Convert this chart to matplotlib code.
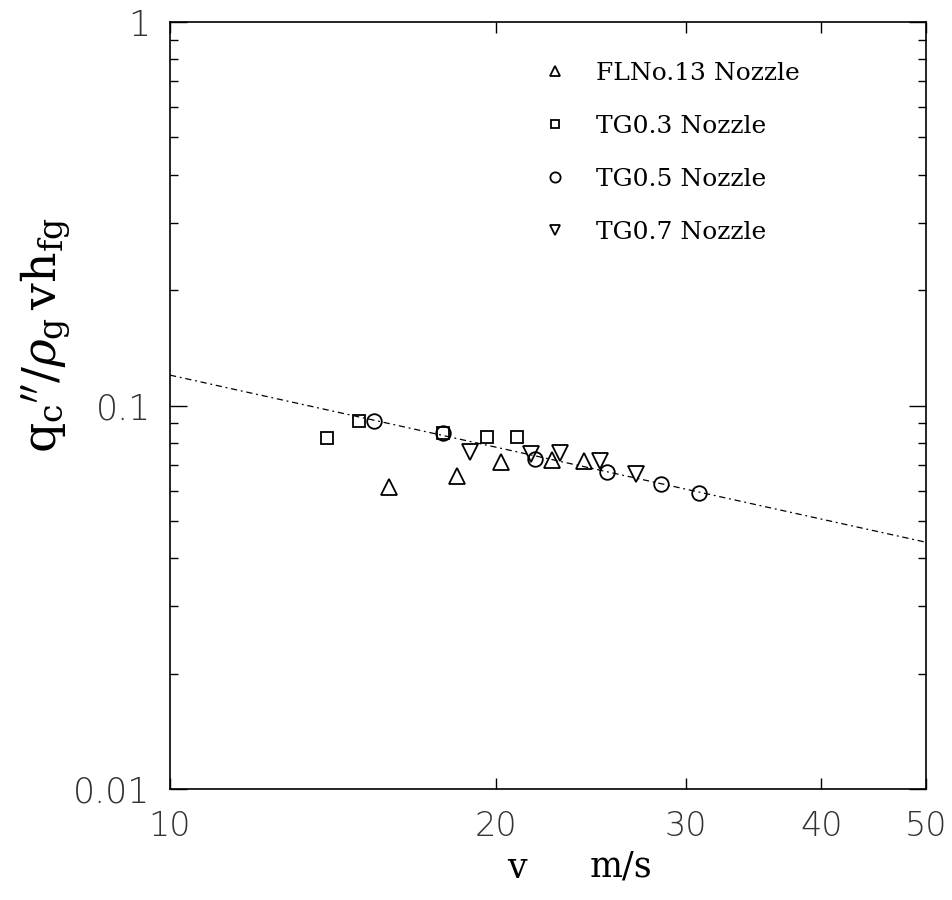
import matplotlib
matplotlib.use("Agg")
import matplotlib.pyplot as plt
from matplotlib.ticker import FixedLocator, NullLocator, LogLocator, NullFormatter, FixedFormatter

# ---- data ----
fl13_v = [15.95, 18.43, 20.23, 22.53, 24.15]
fl13_q = [0.0614, 0.0655, 0.0714, 0.0723, 0.0718]

tg03_v = [13.96, 14.95, 17.89, 19.64, 20.92]
tg03_q = [0.0821, 0.0911, 0.0846, 0.0829, 0.0829]

tg05_v = [15.44, 17.87, 21.73, 25.33, 28.47, 30.84]
tg05_q = [0.0911, 0.0846, 0.0725, 0.0669, 0.0625, 0.0593]

tg07_v = [18.94, 21.58, 22.92, 24.98, 26.94]
tg07_q = [0.0755, 0.0747, 0.0750, 0.0718, 0.0664]

fit_v = [10, 50]
fit_q = [0.12, 0.044]

x_ticks = [10, 20, 30, 40, 50]
x_ticklabels = ["10", "20", "30", "40", "50"]
y_ticks = [0.01, 0.1, 1]
y_ticklabels = ["0.01", "0.1", "1"]

labels = ["FLNo.13 Nozzle", "TG0.3 Nozzle", "TG0.5 Nozzle", "TG0.7 Nozzle"]

# ---- figure ----
plt.rcParams['mathtext.fontset'] = 'dejavuserif'
fig = plt.figure(figsize=(9.53, 9.0), dpi=100)
ax = fig.add_axes([170/953, 1-789/900, 756/953, 767/900])

ax.set_xscale('log')
ax.set_yscale('log')
ax.set_xlim(10, 50)
ax.set_ylim(0.01, 1)

ax.plot(fit_v, fit_q, color='black', lw=0.9, dashes=(5, 3, 1.5, 3))

mk = dict(linestyle='none', markerfacecolor='none', markeredgecolor='black', markeredgewidth=1.3)
ax.plot(fl13_v, fl13_q, marker='^', markersize=11, label=labels[0], **mk)
ax.plot(tg03_v, tg03_q, marker='s', markersize=9, label=labels[1], **mk)
ax.plot(tg05_v, tg05_q, marker='o', markersize=10.5, label=labels[2], **mk)
ax.plot(tg07_v, tg07_q, marker='v', markersize=11, label=labels[3], **mk)

# ticks
ax.xaxis.set_major_locator(FixedLocator(x_ticks))
ax.xaxis.set_major_formatter(FixedFormatter(x_ticklabels))
ax.xaxis.set_minor_locator(NullLocator())
ax.yaxis.set_major_locator(FixedLocator(y_ticks))
ax.yaxis.set_major_formatter(FixedFormatter(y_ticklabels))
ax.yaxis.set_minor_locator(LogLocator(base=10, subs=range(2, 10)))
ax.yaxis.set_minor_formatter(NullFormatter())

ax.tick_params(axis='both', which='both', direction='in', top=True, right=True, width=1.0, color='black')
ax.tick_params(axis='y', which='major', length=12, pad=14)
ax.tick_params(axis='y', which='minor', length=6)
ax.tick_params(axis='x', which='major', length=8, pad=15)
for lab in ax.get_yticklabels():
    lab.set_fontfamily('DejaVu Sans')
    lab.set_fontsize(25)
    lab.set_fontweight('light')
    lab.set_color('#333333')
for lab in ax.get_xticklabels():
    lab.set_fontfamily('DejaVu Sans')
    lab.set_fontsize(24)
    lab.set_fontweight('light')
    lab.set_color('#333333')

for s in ax.spines.values():
    s.set_linewidth(1.2)

# axis labels
fig.text(517/953, 1-868/900, "v", family='DejaVu Serif', fontsize=25,
         ha='center', va='center')
fig.text(621/953, 1-866/900, "m/s", family='DejaVu Serif', fontsize=25,
         ha='center', va='center')
fig.text(45/953, 1-335/900, r"$\mathrm{q_c}^{\prime\prime}/\rho_\mathrm{g}\,\mathrm{vh_{fg}}$",
         fontsize=34, rotation=90, ha='center', va='center')

leg = ax.legend(loc='upper left', bbox_to_anchor=((542.5-170)/756, (789-62)/767),
                frameon=False, prop=dict(family='DejaVu Serif', size=18),
                handlelength=1.0, handletextpad=1.14, labelspacing=1.2,
                borderpad=0, borderaxespad=0, markerscale=0.7)

fig.savefig("out.png", dpi=100)
